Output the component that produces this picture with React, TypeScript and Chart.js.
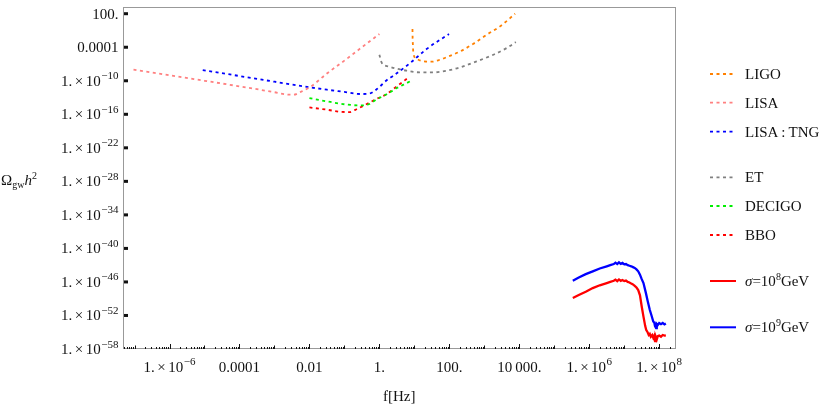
import { useEffect, useRef } from "react";
import { Chart, registerables } from "chart.js";
Chart.register(...registerables);

const FONT = '"Liberation Serif", "Times New Roman", serif';

// axis ranges (log10)
const xMinExp = -7.33;
const xMaxExp = 8.48;
const yMinExp = -58;
const yMaxExp = 3.2;

// tick decades and labels ("^" marks a superscript exponent)
const xTickExps = [-6, -4, -2, 0, 2, 4, 6, 8];
const xTickLabels = ["1.×10^-6", "0.0001", "0.01", "1.", "100.", "10\u2009000.", "1.×10^6", "1.×10^8"];
const yTickExps = [2, -4, -10, -16, -22, -28, -34, -40, -46, -52, -58];
const yTickLabels = [
  "100.", "0.0001", "1.×10^-10", "1.×10^-16", "1.×10^-22", "1.×10^-28",
  "1.×10^-34", "1.×10^-40", "1.×10^-46", "1.×10^-52", "1.×10^-58",
];

// series (log10 f [Hz], log10 Omega h^2)
const ligoLogF = [0.946, 0.95, 0.96, 0.97, 1.07, 1.26, 1.5, 1.73, 1.93, 2.31, 2.69, 3.07, 3.45, 3.88];
const ligoLogOmega = [-0.74, -2.3, -3.8, -5.03, -6.1, -6.53, -6.59, -6.23, -5.76, -4.75, -3.37, -1.76, -0.27, 2.0];

const lisaLogF = [-7.03, -6, -5, -4, -3, -2.65, -2.45, -2.27, -1.98, -1.5, -1.0, -0.5, 0.0];
const lisaLogOmega = [-8.0, -9.0, -10.0, -11.0, -12.05, -12.45, -12.5, -12.05, -11.12, -8.7, -6.4, -4.0, -1.64];

const tngLogF = [-5.05, -4, -3, -2.0, -1.5, -1.0, -0.55, -0.27, -0.07, 0.21, 0.4, 0.88, 1.35, 1.99];
const tngLogOmega = [-8.08, -9.15, -10.17, -11.15, -11.6, -12.0, -12.37, -12.26, -11.48, -9.9, -9.1, -6.82, -4.32, -1.64];

const etLogF = [0.0, 0.07, 0.26, 0.5, 0.78, 1.16, 1.54, 1.93, 2.31, 2.78, 3.26, 3.64, 3.9];
const etLogOmega = [-5.34, -6.83, -7.43, -7.84, -8.2, -8.5, -8.5, -8.2, -7.6, -6.53, -5.34, -4.14, -3.07];

const decigoLogF = [-2.0, -1.5, -1.0, -0.55, -0.3, -0.07, 0.21, 0.5, 0.69, 0.93];
const decigoLogOmega = [-13.1, -13.69, -14.2, -14.42, -14.2, -13.3, -12.4, -11.3, -10.7, -9.94];

const bboLogF = [-2.0, -1.5, -1.12, -0.85, -0.69, -0.36, -0.07, 0.21, 0.5, 0.85];
const bboLogOmega = [-14.77, -15.18, -15.55, -15.6, -15.2, -14.16, -13.2, -12.37, -11.0, -9.33];

const sigma8LogF = [5.53, 5.7, 5.9, 6.1, 6.3, 6.5, 6.6, 6.7, 6.75, 6.8, 6.85, 6.9, 6.95, 7.0, 7.05, 7.1, 7.15, 7.2, 7.25, 7.3, 7.35, 7.4, 7.45, 7.5, 7.55, 7.6, 7.63, 7.66, 7.7, 7.73, 7.76, 7.8, 7.83, 7.86, 7.88, 7.9, 7.93, 7.96, 8.0, 8.05, 8.1, 8.15, 8.19];
const sigma8LogOmega = [-48.88, -48.35, -47.75, -47.1, -46.6, -46.2, -46.0, -45.8, -45.6, -45.85, -45.55, -45.8, -45.65, -45.85, -45.75, -46.0, -46.1, -46.3, -46.45, -46.7, -47.0, -47.45, -48.4, -50.4, -52.2, -53.9, -54.6, -54.9, -55.5, -55.3, -55.8, -55.5, -56.0, -55.6, -56.6, -55.8, -56.3, -55.7, -55.6, -55.8, -55.5, -55.6, -55.55];

const sigma9LogF = [5.53, 5.7, 5.9, 6.1, 6.3, 6.5, 6.6, 6.7, 6.75, 6.8, 6.85, 6.9, 6.95, 7.0, 7.05, 7.1, 7.15, 7.2, 7.25, 7.3, 7.35, 7.4, 7.45, 7.5, 7.55, 7.62, 7.67, 7.73, 7.78, 7.83, 7.86, 7.88, 7.91, 7.93, 7.96, 8.0, 8.05, 8.1, 8.15, 8.19];
const sigma9LogOmega = [-45.78, -45.2, -44.6, -44.1, -43.6, -43.2, -43.0, -42.8, -42.55, -42.8, -42.5, -42.75, -42.6, -42.85, -42.8, -43.0, -43.1, -43.2, -43.35, -43.5, -43.75, -44.1, -44.7, -45.5, -46.2, -48.0, -49.4, -50.97, -52.0, -53.07, -53.3, -53.9, -54.25, -53.5, -53.7, -53.35, -53.55, -53.35, -53.6, -53.45];

const seriesNames = ["LIGO", "LISA", "LISA\u2009:\u2009TNG", "ET", "DECIGO", "BBO"];

// legend layout (pixel centers)
const legendY = [74, 102.7, 131.7, 177.3, 206, 235, 281, 327.3];
const legendX0 = 710;
const legendTextX = 745;

const toPts = (lf: number[], lo: number[]) => lf.map((f, i) => ({ x: Math.pow(10, f), y: Math.pow(10, lo[i]) }));

const dashed = (label: string, color: string, lf: number[], lo: number[]) => ({
  label,
  data: toPts(lf, lo),
  borderColor: color,
  backgroundColor: color,
  borderWidth: 1.8,
  borderDash: [3, 3.5],
  pointRadius: 0,
  cubicInterpolationMode: "monotone",
  fill: false,
});

const solid = (label: string, color: string, lf: number[], lo: number[]) => ({
  label,
  data: toPts(lf, lo),
  borderColor: color,
  backgroundColor: color,
  borderWidth: 2.3,
  pointRadius: 0,
  tension: 0,
  fill: false,
});

const MAIN = 15;
const SUP = 11;

// draw a tick label; "^" introduces a raised exponent
function drawLabel(ctx: any, label: string, x: number, baseline: number, align: "center" | "right") {
  const parts: { t: string; size: number; dy: number; gapAfter: number }[] = [];
  const [base, exp] = label.split("^");
  if (exp !== undefined) {
    const [mant, ten] = base.split("×");
    parts.push({ t: mant, size: MAIN, dy: 0, gapAfter: 2.5 });
    parts.push({ t: "×", size: MAIN, dy: 0, gapAfter: 2.5 });
    parts.push({ t: ten, size: MAIN, dy: 0, gapAfter: 0.5 });
    parts.push({ t: exp.replace("-", "\u2212"), size: SUP, dy: -6.5, gapAfter: 0 });
  } else {
    parts.push({ t: base, size: MAIN, dy: 0, gapAfter: 0 });
  }
  let w = 0;
  parts.forEach((p) => {
    ctx.font = `${p.size}px ${FONT}`;
    w += ctx.measureText(p.t).width + p.gapAfter;
  });
  let cx = align === "center" ? x - w / 2 : x - w;
  ctx.textAlign = "left";
  ctx.textBaseline = "alphabetic";
  parts.forEach((p) => {
    ctx.font = `${p.size}px ${FONT}`;
    ctx.fillText(p.t, cx, baseline + p.dy);
    cx += ctx.measureText(p.t).width + p.gapAfter;
  });
}

const framePlugin = {
  id: "frameTicks",
  afterDraw(chart: any) {
    const { ctx, chartArea, scales } = chart;
    const { left, right, top, bottom } = chartArea;
    const xs = scales.x;
    const ys = scales.y;
    ctx.save();
    ctx.strokeStyle = "#999999";
    ctx.lineWidth = 1;
    ctx.strokeRect(left + 0.5, top + 0.5, right - left - 1, bottom - top - 1);

    ctx.strokeStyle = "#111";
    ctx.lineWidth = 1;
    for (let e = Math.floor(xMinExp); e <= Math.ceil(xMaxExp); e++) {
      for (let m = 1; m < 10; m++) {
        const px = Math.round(xs.getPixelForValue(m * Math.pow(10, e))) + 0.5;
        if (px < left + 1 || px > right - 1) continue;
        const len = m === 1 ? (e % 2 === 0 ? 5 : 3.5) : 2;
        ctx.beginPath();
        ctx.moveTo(px, bottom);
        ctx.lineTo(px, bottom - len);
        ctx.stroke();
      }
    }
    ctx.fillStyle = "#111";
    yTickExps.forEach((e) => {
      const py = ys.getPixelForValue(Math.pow(10, e));
      if (py > bottom - 2) return;
      ctx.fillRect(left + 1, py - 1.5, 4, 3);
    });

    // tick labels
    ctx.fillStyle = "#111";
    xTickExps.forEach((e, i) => {
      const px = xs.getPixelForValue(Math.pow(10, e));
      drawLabel(ctx, xTickLabels[i], px, bottom + 22.5, "center");
    });
    yTickExps.forEach((e, i) => {
      const py = ys.getPixelForValue(Math.pow(10, e));
      drawLabel(ctx, yTickLabels[i], left - 4.5, py + 5, "right");
    });

    // legend samples
    chart.data.datasets.forEach((ds: any, i: number) => {
      const y = legendY[i];
      ctx.beginPath();
      ctx.strokeStyle = ds.borderColor;
      ctx.lineWidth = ds.borderDash ? ds.borderWidth : 2;
      ctx.setLineDash(ds.borderDash || []);
      ctx.moveTo(legendX0, y);
      ctx.lineTo(ds.borderDash ? legendX0 + 23 : legendX0 + 26, y);
      ctx.stroke();
    });
    ctx.restore();
  },
};

export default function App() {
  const ref = useRef<HTMLCanvasElement | null>(null);
  useEffect(() => {
    if (!ref.current) return;
    const chart = new Chart(ref.current, {
      type: "line",
      data: {
        datasets: [
          dashed(seriesNames[0], "#ff8000", ligoLogF, ligoLogOmega),
          dashed(seriesNames[1], "#ff8080", lisaLogF, lisaLogOmega),
          dashed(seriesNames[2], "#0000ff", tngLogF, tngLogOmega),
          dashed(seriesNames[3], "#808080", etLogF, etLogOmega),
          dashed(seriesNames[4], "#00ee00", decigoLogF, decigoLogOmega),
          dashed(seriesNames[5], "#ff0000", bboLogF, bboLogOmega),
          solid("σ=10⁸GeV", "#ff0000", sigma8LogF, sigma8LogOmega),
          solid("σ=10⁹GeV", "#0000ff", sigma9LogF, sigma9LogOmega),
        ] as any,
      },
      options: {
        responsive: false,
        maintainAspectRatio: false,
        animation: false,
        layout: { padding: { left: 0, right: 154, top: 7, bottom: 0 } },
        plugins: { legend: { display: false }, tooltip: { enabled: false } },
        scales: {
          x: {
            type: "logarithmic",
            min: Math.pow(10, xMinExp),
            max: Math.pow(10, xMaxExp),
            grid: { display: false, drawTicks: false },
            border: { display: false },
            afterBuildTicks: (s: any) => {
              s.ticks = xTickExps.map((e) => ({ value: Math.pow(10, e) }));
            },
            afterFit: (s: any) => {
              s.height = 57;
            },
            ticks: { display: false },
          },
          y: {
            type: "logarithmic",
            min: Math.pow(10, yMinExp),
            max: Math.pow(10, yMaxExp),
            grid: { display: false, drawTicks: false },
            border: { display: false },
            afterBuildTicks: (s: any) => {
              s.ticks = yTickExps.map((e) => ({ value: Math.pow(10, e) }));
            },
            afterFit: (s: any) => {
              s.width = 123;
            },
            ticks: { display: false },
          },
        },
      } as any,
      plugins: [framePlugin],
    });
    return () => chart.destroy();
  }, []);

  const textStyle = (x: number, yc: number): any => ({
    position: "absolute",
    left: x,
    top: yc - 9,
    font: `15px ${FONT}`,
    lineHeight: "18px",
    color: "#111",
    whiteSpace: "nowrap",
  });

  return (
    <div style={{ position: "absolute", left: 0, top: 0, width: 830, height: 406, background: "#fff" }}>
      <canvas ref={ref} width={830} height={406} style={{ position: "absolute", left: 0, top: 0, width: 830, height: 406 }} />
      <div style={textStyle(1, 180)}>
        Ω<span style={{ fontSize: 10, position: "relative", top: 3 }}>gw</span>
        <i>h</i>
        <span style={{ fontSize: 10, position: "relative", top: -6 }}>2</span>
      </div>
      <div style={textStyle(383, 396)}>f[Hz]</div>
      {seriesNames.map((n, i) => (
        <div key={n} style={textStyle(legendTextX, legendY[i])}>{n}</div>
      ))}
      <div style={textStyle(legendTextX, legendY[6])}>
        <i>σ</i>=10<span style={{ fontSize: 10, position: "relative", top: -6 }}>8</span>GeV
      </div>
      <div style={textStyle(legendTextX, legendY[7])}>
        <i>σ</i>=10<span style={{ fontSize: 10, position: "relative", top: -6 }}>9</span>GeV
      </div>
    </div>
  );
}
